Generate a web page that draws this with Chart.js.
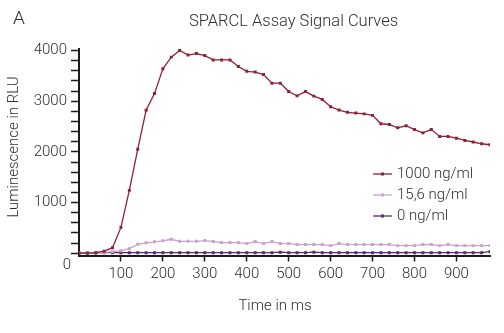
<!DOCTYPE html>
<html>
<head>
<meta charset="utf-8">
<script src="https://cdn.jsdelivr.net/npm/chart.js@4/dist/chart.umd.min.js"></script>
<style>
  html, body { margin: 0; padding: 0; background: #fff; }
  #wrap { width: 504px; height: 333px; }
</style>
</head>
<body>
<div id="wrap"><canvas id="chart" width="504" height="333"></canvas></div>
<script>
// Time points (ms)
const times = [0, 20, 40, 60, 80, 100, 120, 140, 160, 180,
  200, 220, 240, 260, 280, 300, 320, 340, 360, 380,
  400, 420, 440, 460, 480, 500, 520, 540, 560, 580,
  600, 620, 640, 660, 680, 700, 720, 740, 760, 780,
  800, 820, 840, 860, 880, 900, 920, 940, 960, 980];

// Luminescence (RLU) per concentration
const signal1000 = [0, 0, 10, 40, 110, 510, 1240, 2050, 2820, 3150,
  3640, 3870, 4000, 3910, 3940, 3900, 3815, 3815, 3815, 3685,
  3590, 3575, 3525, 3355, 3355, 3190, 3105, 3190, 3100, 3035,
  2890, 2825, 2780, 2765, 2750, 2720, 2555, 2540, 2475, 2515,
  2440, 2375, 2440, 2305, 2305, 2270, 2225, 2195, 2160, 2140];
const signal15 = [5, 5, 10, 15, 30, 50, 90, 175, 205, 225,
  245, 275, 235, 235, 235, 250, 230, 210, 210, 210,
  190, 230, 190, 230, 190, 190, 170, 170, 170, 170,
  150, 190, 170, 170, 170, 170, 170, 170, 150, 150,
  150, 170, 170, 150, 170, 150, 150, 150, 150, 150];
const signal0 = [5, 5, 5, 10, 10, 10, 10, 10, 10, 10,
  10, 10, 10, 10, 10, 10, 10, 10, 10, 10,
  10, 10, 10, 10, 20, 10, 10, 10, 20, 10,
  10, 10, 10, 10, 10, 10, 10, 10, 10, 10,
  10, 10, 10, 10, 10, 10, 10, 10, 10, 30];

const seriesNames = ['1000 ng/ml', '15,6 ng/ml', '0 ng/ml'];
const seriesColors = ['#8e2233', '#c9a3cb', '#5b2c6c'];

// Axis ticks
const xTicks = [100, 200, 300, 400, 500, 600, 700, 800, 900];
const yTicks = [0, 200, 400, 600, 800, 1000, 1200, 1400, 1600, 1800, 2000,
  2200, 2400, 2600, 2800, 3000, 3200, 3400, 3600, 3800, 4000];

const FONT = 'Roboto, "Open Sans", sans-serif';
const TXT = '#2e2e2e';

function toPoints(vals) {
  return times.map((t, i) => ({ x: t, y: vals[i] }));
}

// Texts outside the axes: panel letter, title, axis titles, legend, the "0"
const extras = {
  id: 'extras',
  afterDraw(chart) {
    const ctx = chart.ctx;
    const y = chart.scales.y;
    ctx.save();
    ctx.fillStyle = TXT;
    ctx.textBaseline = 'middle';

    ctx.font = '300 19px ' + FONT;
    ctx.textAlign = 'left';
    ctx.fillText('A', 13, 19.5);

    ctx.font = '300 16.5px ' + FONT;
    ctx.textAlign = 'center';
    ctx.fillText('SPARCL Assay Signal Curves', 293.5, 21.5);

    ctx.font = '300 15px ' + FONT;
    ctx.fillText('Time in ms', 275, 306);

    ctx.save();
    ctx.translate(14, 147);
    ctx.rotate(-Math.PI / 2);
    ctx.fillText('Luminescence in RLU', 0, 0);
    ctx.restore();

    // zero label sits below the axis in the original
    ctx.textAlign = 'right';
    ctx.fillText('0', 71, y.getPixelForValue(0) + 12);

    // legend
    ctx.textAlign = 'left';
    seriesNames.forEach((name, i) => {
      const ly = 174 + i * 21;
      ctx.strokeStyle = seriesColors[i];
      ctx.lineWidth = 1.3;
      ctx.beginPath();
      ctx.moveTo(373, ly);
      ctx.lineTo(392, ly);
      ctx.stroke();
      ctx.fillStyle = seriesColors[i];
      ctx.fillRect(381, ly - 1.5, 3, 3);
      ctx.fillStyle = TXT;
      ctx.fillText(name, 397, ly);
    });
    ctx.restore();
  }
};

new Chart(document.getElementById('chart'), {
  type: 'line',
  data: {
    datasets: [
      { label: seriesNames[0], data: toPoints(signal1000), borderColor: seriesColors[0], backgroundColor: seriesColors[0] },
      { label: seriesNames[1], data: toPoints(signal15), borderColor: seriesColors[1], backgroundColor: seriesColors[1] },
      { label: seriesNames[2], data: toPoints(signal0), borderColor: seriesColors[2], backgroundColor: seriesColors[2] }
    ]
  },
  options: {
    responsive: false,
    animation: false,
    devicePixelRatio: 1,
    layout: { padding: { top: 48.5, right: 14, bottom: 0, left: 0 } },
    elements: {
      line: { borderWidth: 1.3, tension: 0 },
      point: { pointStyle: 'rect', radius: 2.1, borderWidth: 0 }
    },
    plugins: { legend: { display: false }, tooltip: { enabled: false } },
    scales: {
      x: {
        type: 'linear',
        min: 0,
        max: 980,
        afterBuildTicks: s => { s.ticks = xTicks.map(v => ({ value: v })); },
        afterFit: s => { s.height = 77.5; },
        grid: { drawOnChartArea: false, tickLength: 6, tickColor: '#1a1a1a', tickWidth: 1.5 },
        border: { color: '#1a1a1a', width: 2 },
        ticks: { autoSkip: false, maxRotation: 0, padding: 4, color: TXT, font: { family: FONT, size: 15, weight: 300 } }
      },
      y: {
        type: 'linear',
        min: -45,
        max: 4040,
        afterBuildTicks: s => { s.ticks = yTicks.map(v => ({ value: v })); },
        afterFit: s => { s.width = 79; },
        grid: { drawOnChartArea: false, tickLength: 8, tickColor: '#1a1a1a', tickWidth: 1.5 },
        border: { color: '#1a1a1a', width: 2 },
        ticks: {
          autoSkip: false,
          padding: 4,
          color: TXT,
          font: { family: FONT, size: 15, weight: 300 },
          callback: v => (v % 1000 === 0 && v !== 0) ? String(v) : ''
        }
      }
    }
  },
  plugins: [extras]
});
</script>
</body>
</html>
